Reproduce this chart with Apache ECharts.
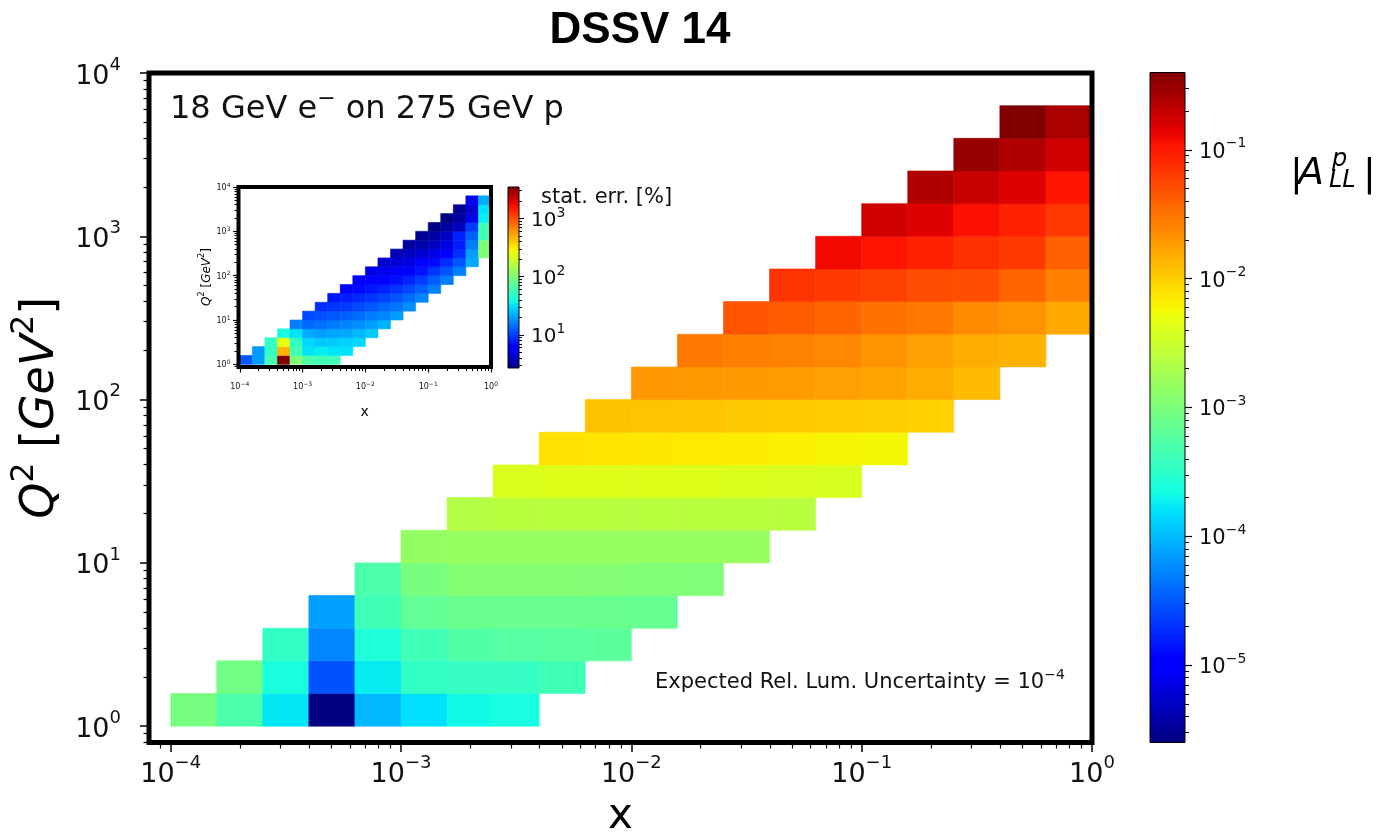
<!DOCTYPE html>
<html><head><meta charset="utf-8">
<script src="https://cdn.jsdelivr.net/npm/echarts@6/dist/echarts.min.js"></script>
<style>html,body{margin:0;padding:0;background:#fff}#c{width:1380px;height:836px}</style>
</head><body><div id="c"></div>
<script>
// ---------------- DATA ----------------
// log10 bin edges of x and Q^2 (5 bins per decade)
const xEdgeExp = [-4,-3.8,-3.6,-3.4,-3.2,-3,-2.8,-2.6,-2.4,-2.2,-2,-1.8,-1.6,-1.4,-1.2,-1,-0.8,-0.6,-0.4,-0.2,0];
const q2EdgeExp = [0,0.2,0.4,0.6,0.8,1,1.2,1.4,1.6,1.8,2,2.2,2.4,2.6,2.8,3,3.2,3.4,3.6,3.8,4];
// index of the first filled x bin in each Q^2 row
const rowFirstBin = [0,1,2,3,4,5,6,7,8,9,10,11,12,13,14,15,16,17,18];
// |A_LL^p| per Q^2 row (main panel)
const aLLRows = [
  [9.5e-4,5.0e-4,1.7e-4,2.5e-6,9.8e-5,1.55e-4,2.1e-4,2.3e-4],
  [8.5e-4,2.4e-4,2.9e-5,1.8e-4,3.4e-4,3.6e-4,3.6e-4,4.2e-4],
  [3.4e-4,5.5e-5,2.6e-4,4.2e-4,5.4e-4,5.8e-4,6.0e-4,6.3e-4],
  [7.4e-5,4.2e-4,6.8e-4,7.6e-4,7.6e-4,7.6e-4,7.6e-4,7.2e-4],
  [5.0e-4,9.5e-4,1.15e-3,1.15e-3,1.12e-3,1.1e-3,1.07e-3,1.05e-3],
  [1.4e-3,1.5e-3,1.5e-3,1.5e-3,1.5e-3,1.5e-3,1.5e-3,1.5e-3],
  [2.3e-3,2.4e-3,2.4e-3,2.4e-3,2.4e-3,2.4e-3,2.4e-3,2.4e-3],
  [4.0e-3,4.1e-3,4.1e-3,4.1e-3,4.1e-3,4.0e-3,3.9e-3,3.8e-3],
  [7.6e-3,7.4e-3,7.2e-3,7.0e-3,6.8e-3,6.5e-3,6.1e-3,5.8e-3],
  [1.15e-2,1.12e-2,1.1e-2,1.07e-2,1.05e-2,1.02e-2,1.0e-2,9.5e-3],
  [2.0e-2,1.95e-2,1.9e-2,1.86e-2,1.78e-2,1.7e-2,1.5e-2,1.26e-2],
  [2.95e-2,2.7e-2,2.6e-2,2.4e-2,2.1e-2,1.8e-2,1.5e-2,1.4e-2],
  [4.7e-2,4.2e-2,3.7e-2,3.2e-2,2.95e-2,2.3e-2,2.1e-2,1.6e-2],
  [7.1e-2,6.6e-2,6.0e-2,5.1e-2,5.0e-2,3.7e-2,2.7e-2],
  [0.122,0.105,0.089,0.074,0.065,0.040],
  [0.174,0.148,0.110,0.089,0.066],
  [0.24,0.186,0.148,0.105],
  [0.31,0.24,0.174],
  [0.40,0.26]
];
// statistical error [%] per Q^2 row (inset)
const statErrRows = [
  [12,19.5,58,3500,100,66,58,58],
  [19.5,51,470,58,33,35,33,32],
  [51,250,51,30,27.5,27.5,29,30],
  [40,33,22,20,21,22,24,27],
  [16,14,14.5,15.5,16.5,18,20,23],
  [11,11.5,12,13,14,15.5,17,20],
  [9.0,9.5,10,11,12,13.5,15,18],
  [7.6,8.0,8.7,9.5,10.5,12,14,17],
  [6.6,6.9,7.6,8.3,9.5,11,13,16],
  [5.8,6.0,6.3,7.2,8.5,10,12.5,16],
  [5.0,5.2,5.6,6.3,7.5,9.5,12,16],
  [4.4,4.6,5.0,5.8,7.0,9.0,12,22],
  [3.8,4.0,4.4,5.0,6.5,9.0,20,100],
  [3.3,3.5,4.0,5.0,8.0,16,100],
  [3.0,3.3,4.2,8.3,13,58],
  [2.8,3.3,4.0,10,58],
  [2.8,3.3,5.2,35],
  [3.0,4.4,32],
  [5.5,22]
];
// colour-scale ranges (log10)
const aLLRange = [-5.6, -0.4];
const errRange = [0.43, 3.54];
// axis limits (log10)
const mainX = [-4.094, 0], mainY = [-0.1, 4];
const insetX = [-4.02, 0], insetY = [-0.06, 4];
// major tick exponents
const mainXTicks = [-4,-3,-2,-1,0];
const mainYTicks = [0,1,2,3,4];
const cbarTicks = [-5,-4,-3,-2,-1];
const errTicks = [1,2,3];

// ---------------- HELPERS ----------------
const fam = "'DejaVu Sans', sans-serif";
function jet(t){
  const seg = pts => { for (let k=1;k<pts.length;k++){ if (t<=pts[k][0]){ const [x0,y0]=pts[k-1],[x1,y1]=pts[k]; return y0+(y1-y0)*(t-x0)/(x1-x0);} } return pts[pts.length-1][1]; };
  const r=seg([[0,0],[0.35,0],[0.66,1],[0.89,1],[1,0.5]]);
  const g=seg([[0,0],[0.125,0],[0.375,1],[0.64,1],[0.91,0],[1,0]]);
  const b=seg([[0,0.5],[0.11,1],[0.34,1],[0.65,0],[1,0]]);
  return 'rgb('+Math.round(r*255)+','+Math.round(g*255)+','+Math.round(b*255)+')';
}
const jetColors = []; for (let k=0;k<=128;k++) jetColors.push(jet(k/128));
const jetStops = jetColors.map((c,k)=>({offset:k/128,color:c}));

function minorVals(lo, hi){
  const out=[];
  for (let n=Math.floor(lo)-1;n<=Math.ceil(hi);n++) for (let k=2;k<=9;k++){ const v=n+Math.log10(k); if (v>=lo-1e-9 && v<=hi+1e-9) out.push(v); }
  return out;
}
function buildCells(rows, range){
  const out=[];
  rows.forEach((vals,j)=>vals.forEach((v,k)=>{
    const i=rowFirstBin[j]+k;
    const lv=Math.min(range[1],Math.max(range[0],Math.log10(v)));
    out.push([xEdgeExp[i],xEdgeExp[i+1],q2EdgeExp[j],q2EdgeExp[j+1],lv]);
  }));
  return out;
}
function supFmt(v){ const e=Math.round(v); return '{b|10}{s|'+(e<0?'\u2212'+(-e):e)+'}'; }
function richSup(bs,ss,bl,sl){
  return { b:{fontSize:bs,fontFamily:fam,color:'#111',lineHeight:bl,verticalAlign:'bottom'},
           s:{fontSize:ss,fontFamily:fam,color:'#111',lineHeight:sl,verticalAlign:'top'} };
}
function cellRender(params, api){
  const p0=api.coord([api.value(0),api.value(2)]);
  const p1=api.coord([api.value(1),api.value(3)]);
  const c=api.visual('color');
  return {type:'rect',shape:{x:p0[0],y:p1[1],width:p1[0]-p0[0],height:p0[1]-p1[1]},style:{fill:c,stroke:c,lineWidth:0.6}};
}
function barRender(params, api){
  const p0=api.coord([api.value(0),api.value(2)]);
  const p1=api.coord([api.value(1),api.value(3)]);
  return {type:'rect',shape:{x:p0[0],y:p1[1],width:p1[0]-p0[0],height:p0[1]-p1[1]},
    style:{fill:{type:'linear',x:0,y:1,x2:0,y2:0,colorStops:jetStops},stroke:'#000',lineWidth:1}};
}
function hiddenAxis(grid){ return {gridIndex:grid,type:'value',min:0,max:1,show:false,axisLine:{onZero:false}}; }
function axis(o){
  const a={gridIndex:o.grid,type:'value',min:o.range[0],max:o.range[1],position:o.pos,z:o.z||0,
    axisLine:{show:false,onZero:false},splitLine:{show:false},
    axisTick:{show:true,inside:false,length:o.len,customValues:o.ticks,lineStyle:{color:'#000',width:o.tw||1}},
    axisLabel:o.label?{show:true,customValues:o.ticks,formatter:supFmt,margin:o.margin,rich:o.rich}:{show:false}};
  if (o.name) Object.assign(a,o.name);
  return a;
}

const mainCells = buildCells(aLLRows, aLLRange);
const errCells = buildCells(statErrRows, errRange);

// ---------------- CHART ----------------
const chart = echarts.init(document.getElementById('c'), null, {renderer:'canvas'});
const gridMain = {left:149,top:73,width:943,height:669.5};
const gridIn = {left:238.5,top:187,width:252.5,height:180};
const qName = '{i|Q}{s|2}{n| [}{i|GeV}{s|2}{n|]}';
function qRich(f){
  return {i:{fontSize:f,fontFamily:fam,fontStyle:'italic',color:'#000',lineHeight:f*1.2,verticalAlign:'bottom'},
          n:{fontSize:f,fontFamily:fam,color:'#000',lineHeight:f*1.2,verticalAlign:'bottom'},
          s:{fontSize:f*0.68,fontFamily:fam,color:'#000',lineHeight:f*0.7,verticalAlign:'top'}};
}
const opt = {
  backgroundColor:'#fff',
  animation:false,
  grid:[
    Object.assign({show:true,borderColor:'#000',borderWidth:5,backgroundColor:'transparent',z:2,outerBoundsMode:'none'},gridMain),
    Object.assign({show:true,borderWidth:0,backgroundColor:'#fff',z:3,outerBoundsMode:'none'},gridIn),
    Object.assign({show:true,borderColor:'#000',borderWidth:4,backgroundColor:'transparent',z:5,outerBoundsMode:'none'},gridIn),
    {left:1150,top:72.5,width:35,height:670,show:false,outerBoundsMode:'none'},
    {left:508,top:187,width:11,height:181,show:false,outerBoundsMode:'none'}
  ],
  xAxis:[
    axis({grid:0,range:mainX,pos:'bottom',len:9.5,tw:1.5,ticks:mainXTicks,label:true,margin:12,z:3,rich:richSup(27,18,34,18),
      name:{name:'x',nameLocation:'middle',nameGap:54,nameTextStyle:{fontSize:42,fontFamily:fam,color:'#000'}}}),
    axis({grid:0,range:mainX,pos:'bottom',len:6,tw:1.2,z:3,ticks:minorVals(mainX[0],mainX[1])}),
    axis({grid:1,range:insetX,pos:'bottom',len:5.5,tw:1.2,ticks:[-4,-3,-2,-1,0],label:true,margin:14,z:6,rich:richSup(8,6,10,6),
      name:{name:'x',nameLocation:'middle',nameGap:38,nameTextStyle:{fontSize:14,fontFamily:fam,color:'#000'}}}),
    axis({grid:1,range:insetX,pos:'bottom',len:4,z:6,ticks:minorVals(insetX[0],insetX[1])}),
    hiddenAxis(3),
    hiddenAxis(4)
  ],
  yAxis:[
    axis({grid:0,range:mainY,pos:'left',len:9,tw:1.5,ticks:mainYTicks,label:true,margin:28,z:3,rich:richSup(27,18,34,18),
      name:{name:qName,nameLocation:'middle',nameRotate:90,nameGap:80,nameTextStyle:{rich:qRich(46)}}}),
    axis({grid:0,range:mainY,pos:'left',len:5.5,tw:1.2,z:3,ticks:minorVals(mainY[0],mainY[1])}),
    axis({grid:1,range:insetY,pos:'left',len:5.5,tw:1.2,ticks:[0,1,2,3,4],label:true,margin:8,z:6,rich:richSup(8,6,10,6),
      name:{name:qName,nameLocation:'middle',nameRotate:90,nameGap:20,nameTextStyle:{rich:qRich(12)}}}),
    axis({grid:1,range:insetY,pos:'left',len:4,z:6,ticks:minorVals(insetY[0],insetY[1])}),
    axis({grid:3,range:aLLRange,pos:'right',len:7,tw:1.2,ticks:cbarTicks,label:true,margin:14,rich:richSup(21,14,26,14)}),
    axis({grid:3,range:aLLRange,pos:'right',len:4,ticks:minorVals(aLLRange[0],aLLRange[1])}),
    axis({grid:4,range:errRange,pos:'right',len:5,ticks:errTicks,label:true,margin:12,z:6,rich:richSup(20,14,24,13)}),
    axis({grid:4,range:errRange,pos:'right',len:3,z:6,ticks:minorVals(errRange[0],errRange[1])})
  ],
  visualMap:[
    {type:'continuous',show:false,seriesIndex:0,dimension:4,min:aLLRange[0],max:aLLRange[1],inRange:{color:jetColors}},
    {type:'continuous',show:false,seriesIndex:2,dimension:4,min:errRange[0],max:errRange[1],inRange:{color:jetColors}}
  ],
  series:[
    {type:'custom',name:'ALL',xAxisIndex:0,yAxisIndex:0,z:1,renderItem:cellRender,encode:{x:[0,1],y:[2,3]},data:mainCells},
    {type:'custom',name:'cbar',xAxisIndex:4,yAxisIndex:4,z:2,renderItem:barRender,encode:{x:[0,1],y:[2,3]},data:[[0,1,aLLRange[0],aLLRange[1]]]},
    {type:'custom',name:'err',xAxisIndex:2,yAxisIndex:2,z:4,renderItem:cellRender,encode:{x:[0,1],y:[2,3]},data:errCells},
    {type:'custom',name:'errbar',xAxisIndex:5,yAxisIndex:6,z:4,renderItem:barRender,encode:{x:[0,1],y:[2,3]},data:[[0,1,errRange[0],errRange[1]]]}
  ],
  graphic:[
    {type:'text',x:640,y:31,z:10,style:{text:'DSSV 14',font:"bold 44px 'Liberation Sans', sans-serif",fill:'#000',align:'center',verticalAlign:'middle'}},
    {type:'text',x:170,y:107,z:10,style:{text:'{n|18 GeV e}{s|\u2212}{n| on 275 GeV p}',align:'left',verticalAlign:'middle',
      rich:{n:{fontSize:32,fontFamily:fam,fill:'#111',lineHeight:38,verticalAlign:'bottom'},s:{fontSize:22,fontFamily:fam,fill:'#111',lineHeight:24,verticalAlign:'top'}}}},
    {type:'text',x:655,y:681,z:10,style:{text:'{n|Expected Rel. Lum. Uncertainty = 10}{s|\u22124}',align:'left',verticalAlign:'middle',
      rich:{n:{fontSize:21,fontFamily:fam,fill:'#111',lineHeight:25,verticalAlign:'bottom'},s:{fontSize:14,fontFamily:fam,fill:'#111',lineHeight:15,verticalAlign:'top'}}}},
    {type:'text',x:541,y:198,z:10,style:{text:'stat. err. [%]',fontSize:21,fontFamily:fam,fill:'#111',align:'left',verticalAlign:'middle'}},
    {type:'text',x:1290,y:175,z:10,style:{text:'|',fontSize:38,fontFamily:fam,fill:'#000',align:'left',verticalAlign:'middle'}},
    {type:'text',x:1298,y:174,z:10,style:{text:'A',fontSize:38,fontFamily:fam,fontStyle:'italic',fill:'#000',align:'left',verticalAlign:'middle'}},
    {type:'text',x:1332,y:160,z:10,style:{text:'p',fontSize:24,fontFamily:fam,fontStyle:'italic',fill:'#000',align:'left',verticalAlign:'middle'}},
    {type:'text',x:1329,y:181,z:10,style:{text:'LL',fontSize:24,fontFamily:fam,fontStyle:'italic',fill:'#000',align:'left',verticalAlign:'middle'}},
    {type:'text',x:1363,y:175,z:10,style:{text:'|',fontSize:38,fontFamily:fam,fill:'#000',align:'left',verticalAlign:'middle'}}
  ]
};
chart.setOption(opt);
</script></body></html>
